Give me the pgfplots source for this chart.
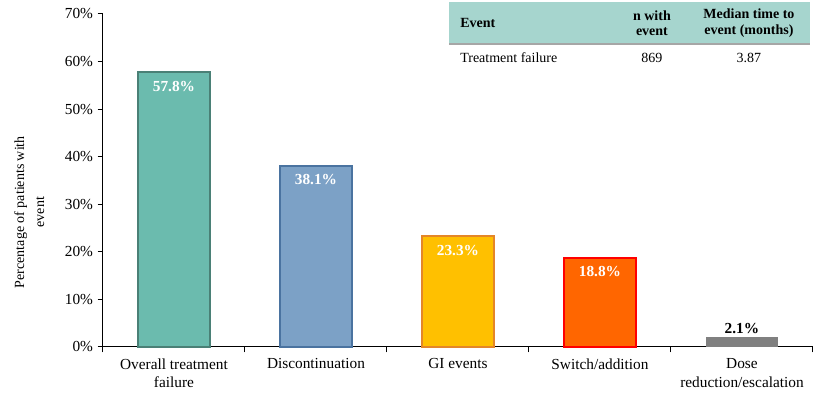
\documentclass[border=0pt]{standalone}
\usepackage{fontspec}
\setmainfont{Liberation Serif}
\usepackage{pgfplots}
\pgfplotsset{compat=1.18}

\definecolor{tealfill}{RGB}{107,187,174}
\definecolor{tealedge}{RGB}{74,128,118}
\definecolor{bluefill}{RGB}{124,161,198}
\definecolor{blueedge}{RGB}{74,115,160}
\definecolor{goldfill}{RGB}{255,192,0}
\definecolor{goldedge}{RGB}{228,134,40}
\definecolor{orgfill}{RGB}{255,102,0}
\definecolor{orgedge}{RGB}{255,0,0}
\definecolor{grayfill}{RGB}{128,128,128}
\definecolor{headfill}{RGB}{166,213,206}

\pgfplotsset{
  inlabel/.style={
    nodes near coords={\pgfmathprintnumber[fixed,fixed zerofill,precision=1]{\pgfplotspointmeta}\%},
    nodes near coords style={anchor=north, yshift=-2.5pt, text=white,
      font=\fontsize{11.5}{13}\selectfont\bfseries}
  }
}

\begin{document}
\begin{tikzpicture}
\useasboundingbox (-77.25pt,-42pt) rectangle (546.75pt,260.25pt);
\begin{axis}[
  scale only axis,
  width=532.5pt, height=249.75pt,
  at={(0,0)}, anchor=south west,
  ybar, bar shift=0pt, bar width=0.507,
  xmin=-0.5, xmax=4.5,
  ymin=0, ymax=70,
  axis x line=bottom, axis y line=left,
  axis line style={-, black, line width=0.75pt},
  xtick={0,1,2,3,4},
  xticklabels={{Overall treatment\\failure},Discontinuation,GI events,Switch/addition,{Dose\\reduction/escalation}},
  xticklabel style={align=center, font=\fontsize{11.5}{14}\selectfont, yshift=-1pt},
  minor xtick={-0.5,0.5,1.5,2.5,3.5,4.5},
  major x tick style={draw=none},
  minor tick length=4pt,
  ytick={0,10,...,70},
  yticklabel={\pgfmathprintnumber{\tick}\%},
  yticklabel style={font=\fontsize{11.5}{13}\selectfont},
  /pgf/number format/assume math mode=true,
  tick align=outside,
  major tick length=4pt,
  tick style={black, line width=0.75pt},
  ylabel={Percentage of patients with\\event},
  ylabel style={align=center, font=\fontsize{10.5}{15}\selectfont,
    at={(axis description cs:-0.104,0.405)}, anchor=center},
  clip=false,
]
\addplot[fill=tealfill, draw=tealedge, line width=1.5pt, inlabel] coordinates {(0,57.8)};
\addplot[fill=bluefill, draw=blueedge, line width=1.5pt, inlabel] coordinates {(1,38.1)};
\addplot[fill=goldfill, draw=goldedge, line width=1.5pt, inlabel] coordinates {(2,23.3)};
\addplot[fill=orgfill, draw=orgedge, line width=1.5pt, inlabel] coordinates {(3,18.8)};
\addplot[fill=grayfill, draw=none,
  nodes near coords={\pgfmathprintnumber[fixed,fixed zerofill,precision=1]{\pgfplotspointmeta}\%},
  nodes near coords style={anchor=south, yshift=-1pt, text=black,
    font=\fontsize{11.5}{13}\selectfont\bfseries}] coordinates {(4,2.1)};

% summary table
\fill[headfill] (axis cs:1.937,72.5) rectangle (axis cs:4.479,63.9);
\draw[gray!70, line width=1.5pt] (axis cs:1.937,63.6) -- (axis cs:4.479,63.6);
\node[anchor=west, font=\fontsize{10.5}{12}\selectfont\bfseries] at (axis cs:1.983,68.1) {Event};
\node[align=center, font=\fontsize{10.5}{11.5}\selectfont\bfseries] at (axis cs:3.366,68.1) {n with\\event};
\node[align=center, font=\fontsize{10.5}{11.5}\selectfont\bfseries] at (axis cs:4.049,68.1) {Median time to\\event (months)};
\node[anchor=west, font=\fontsize{10.5}{12}\selectfont] at (axis cs:1.983,60.75) {Treatment failure};
\node[font=\fontsize{10.5}{12}\selectfont] at (axis cs:3.366,60.75) {869};
\node[font=\fontsize{10.5}{12}\selectfont] at (axis cs:4.049,60.75) {3.87};
\end{axis}
\end{tikzpicture}
\end{document}
